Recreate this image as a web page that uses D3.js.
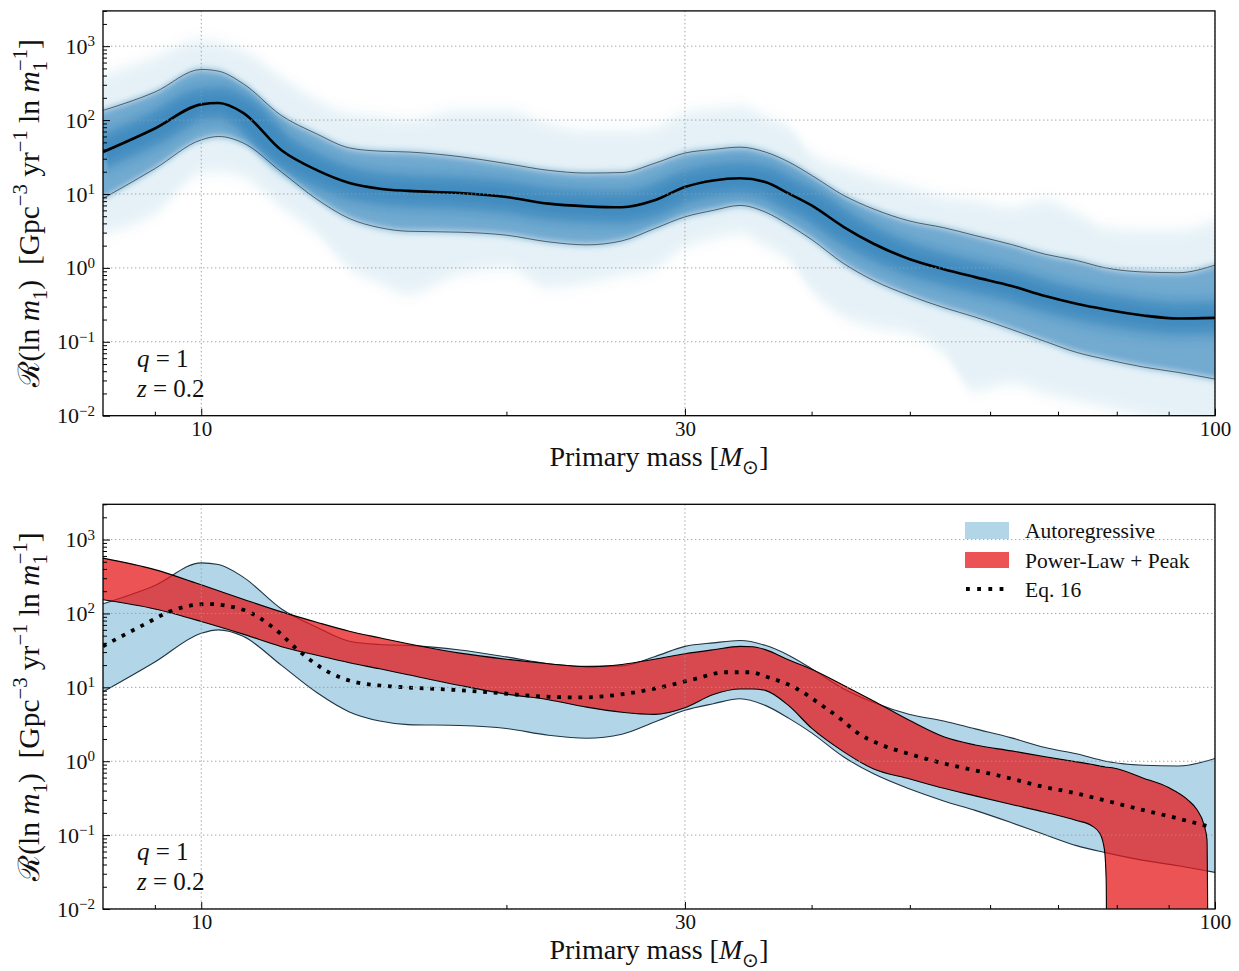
<!DOCTYPE html>
<html>
<head>
<meta charset="utf-8">
<script src="https://cdn.jsdelivr.net/npm/d3@7"></script>
<style>
  html, body { margin: 0; padding: 0; background: #ffffff; }
  svg text { font-family: "Liberation Serif", "Times New Roman", serif; fill: #111; white-space: pre; }
</style>
</head>
<body>
<svg id="chart" width="1239" height="971"></svg>
<script>
// ---------------- data ----------------
// Autoregressive model: posterior summary on a primary-mass grid [M_sun]
const massGrid   = [8, 9, 10, 10.4, 11, 12, 13, 14, 15, 16, 18, 20, 22, 24, 26, 28, 30, 32, 34, 36, 38, 40, 43, 46, 50, 54, 58, 63, 68, 73, 78, 85, 92, 100];
const medianRate = [37, 77, 163, 170, 125, 39, 21, 14.1, 11.8, 11, 10.3, 9.1, 7.4, 6.8, 6.6, 8.2, 12.4, 15.2, 16.3, 14.5, 10.1, 7.0, 3.6, 2.14, 1.31, 0.96, 0.75, 0.57, 0.415, 0.327, 0.274, 0.227, 0.207, 0.211];
const upper90    = [135, 239, 484, 459, 310, 115, 65, 42, 38, 37, 32, 25.8, 20.9, 19.2, 19.5, 26, 35.8, 40, 43, 37, 27, 17.9, 9.6, 6.3, 4.3, 3.5, 2.74, 2.07, 1.53, 1.26, 1.0, 0.88, 0.86, 1.09];
const lower90    = [8.7, 22, 54, 60, 49, 19.8, 8.5, 4.65, 3.5, 3.13, 3.04, 2.77, 2.25, 2.05, 2.32, 3.4, 4.9, 6.0, 7.0, 5.7, 3.8, 2.42, 1.15, 0.68, 0.42, 0.29, 0.216, 0.147, 0.101, 0.072, 0.058, 0.0455, 0.0385, 0.0313];
// extent reached by the individual posterior draws
const drawsUpper = [400, 710, 1200, 1100, 870, 380, 186, 123, 112, 100, 135, 135, 89, 71, 71, 79, 123, 141, 151, 112, 79, 35, 23, 17, 12.3, 9.1, 8.1, 6.6, 8.1, 5.5, 3.5, 3.2, 3.2, 4.4];
const drawsLower = [2.9, 5.5, 19, 20, 17, 6.6, 2.9, 1.0, 0.63, 0.45, 0.83, 1.0, 0.55, 0.63, 0.8, 1.0, 1.9, 2.5, 2.9, 2.0, 1.26, 0.5, 0.22, 0.16, 0.13, 0.069, 0.022, 0.0275, 0.02, 0.016, 0.013, 0.01, 0.008, 0.0063];

// Power-Law + Peak model, 90% band
const plpMass  = [8, 9, 10, 11, 12, 13, 14, 15, 16, 18, 20, 22, 24, 26, 28, 30, 32, 34, 35, 36, 38, 40, 43, 46, 50, 54, 58, 63, 68, 73, 75.5, 77, 77.8, 78.1, 78.3, 85, 90, 94, 96, 97.5, 98.2, 98.6, 100];
const plpUpper = [561, 392, 244, 156, 105, 76, 57.5, 46.8, 38.9, 29, 24, 20.9, 19, 20.4, 24, 28.5, 32.3, 35.8, 35.5, 32.4, 23.4, 17.6, 10.7, 6.6, 3.55, 2.14, 1.66, 1.38, 1.15, 0.98, 0.91, 0.86, 0.84, 0.83, 0.83, 0.59, 0.44, 0.30, 0.22, 0.14, 0.087, 1e-4, 1e-4];
const plpLower = [153, 115, 78, 52.5, 35.5, 27.2, 21.5, 17.8, 14.8, 10.6, 8.1, 6.8, 5.4, 4.6, 4.3, 5.3, 8.0, 9.5, 9.5, 9.1, 5.6, 2.8, 1.35, 0.79, 0.575, 0.43, 0.34, 0.26, 0.204, 0.158, 0.135, 0.105, 0.063, 0.025, 1e-4, 1e-4, 1e-4, 1e-4, 1e-4, 1e-4, 1e-4, 1e-4, 1e-4];

// Eq. 16 fit
const eq16Mass = [8, 8.77, 9.4, 10.16, 11, 11.8, 12.5, 13.4, 14.3, 15.7, 17.6, 19.6, 21.1, 23.7, 26.1, 28.2, 30.5, 32.9, 34.7, 36.4, 38.3, 41.1, 42.8, 44.4, 46.8, 49.8, 53.7, 57.9, 62.5, 67.3, 72.6, 78.4, 84.5, 91.3, 98.3];
const eq16Rate = [36, 70, 112, 134, 112, 63, 30.6, 15.7, 11.5, 10.1, 9.3, 8.4, 7.7, 7.3, 8.1, 9.8, 12.7, 16.0, 16.0, 13.4, 10.3, 5.5, 3.66, 2.42, 1.68, 1.27, 0.95, 0.756, 0.596, 0.459, 0.373, 0.288, 0.222, 0.172, 0.132];

// ticks and labels
const xMajorTicks = [10, 30, 100];
const xMinorTicks = [9, 20, 40, 50, 60, 70, 80, 90];
const yExponents  = [-2, -1, 0, 1, 2, 3];
const legendLabels = ["Autoregressive", "Power-Law + Peak", "Eq. 16"];

// ---------------- layout ----------------
const svg = d3.select("#chart");
svg.append("rect").attr("width", 1239).attr("height", 971).attr("fill", "#fff");

const plotLeft = 103, plotRight = 1215;
const panels = [{ top: 10.9, bottom: 415.7 }, { top: 504.3, bottom: 909 }];

const x = d3.scaleLog().domain([8, 100]).range([plotLeft, plotRight]);
const makeY = p => d3.scaleLog().domain([1e-2, 3e3]).range([p.bottom, p.top]);

const yMinorTicks = [];
yExponents.forEach(e => { for (let k = 2; k <= 9; k++) { const v = k * Math.pow(10, e); if (v <= 3e3) yMinorTicks.push(v); } });

const defs = svg.append("defs");
panels.forEach((p, i) => {
  defs.append("clipPath").attr("id", "clip" + i)
    .append("rect").attr("x", plotLeft).attr("y", p.top)
    .attr("width", plotRight - plotLeft).attr("height", p.bottom - p.top);
});
defs.append("filter").attr("id", "softWide").attr("x", "-5%").attr("y", "-30%").attr("width", "110%").attr("height", "160%")
  .append("feGaussianBlur").attr("stdDeviation", "0 7");
defs.append("filter").attr("id", "softV").attr("x", "-5%").attr("y", "-30%").attr("width", "110%").attr("height", "160%")
  .append("feGaussianBlur").attr("stdDeviation", "0 3.5");
defs.append("filter").attr("id", "softCore").attr("x", "-5%").attr("y", "-50%").attr("width", "110%").attr("height", "200%")
  .append("feGaussianBlur").attr("stdDeviation", "0 7");

const superscriptDigits = e => (e < 0 ? "\u2212" + Math.abs(e) : String(e));

function drawGridAndAxes(g, y, p) {
  // dotted grid
  const grid = g.append("g").attr("clip-path", "url(#clip" + panels.indexOf(p) + ")")
    .attr("stroke", "#9a9a9a").attr("stroke-width", 0.9).attr("stroke-dasharray", "1.4 2.6");
  yExponents.forEach(e => {
    const v = Math.pow(10, e);
    grid.append("line").attr("x1", plotLeft).attr("x2", plotRight).attr("y1", y(v)).attr("y2", y(v));
  });
  xMajorTicks.forEach(v => {
    grid.append("line").attr("x1", x(v)).attr("x2", x(v)).attr("y1", p.top).attr("y2", p.bottom);
  });

  // bottom axis: major ticks with labels, minor ticks without
  const xMajor = g.append("g").attr("transform", `translate(0,${p.bottom})`)
    .call(d3.axisBottom(x).tickValues(xMajorTicks).tickSize(-7).tickPadding(5.5).tickFormat(d3.format("d")));
  const xMinor = g.append("g").attr("transform", `translate(0,${p.bottom})`)
    .call(d3.axisBottom(x).tickValues(xMinorTicks).tickSize(-4).tickFormat(""));
  // left axis
  const yMajor = g.append("g").attr("transform", `translate(${plotLeft},0)`)
    .call(d3.axisLeft(y).tickValues(yExponents.map(e => Math.pow(10, e))).tickSize(-7).tickPadding(9).tickFormat(""));
  const yMinor = g.append("g").attr("transform", `translate(${plotLeft},0)`)
    .call(d3.axisLeft(y).tickValues(yMinorTicks).tickSize(-4).tickFormat(""));

  [xMajor, xMinor, yMajor, yMinor].forEach(a => {
    a.select(".domain").remove();
    a.attr("font-family", null).attr("font-size", null);
    a.selectAll(".tick line").attr("stroke", "#000").attr("stroke-width", 1);
  });
  xMajor.selectAll(".tick text").attr("font-size", 21).attr("fill", "#111");

  yMajor.selectAll(".tick text").each(function (d) {
    const t = d3.select(this).attr("font-size", 22).attr("fill", "#111").attr("text-anchor", "end").attr("x", -8);
    t.text(null);
    t.append("tspan").text("10");
    t.append("tspan").attr("dy", "-0.5em").attr("font-size", "15px").text(superscriptDigits(Math.round(Math.log10(d))));
  });

  // frame
  g.append("rect").attr("x", plotLeft).attr("y", p.top)
    .attr("width", plotRight - plotLeft).attr("height", p.bottom - p.top)
    .attr("fill", "none").attr("stroke", "#000").attr("stroke-width", 1.3);
}

function richText(g, parts, fontSize) {
  // parts: {t, it, sub, sup, back}
  const text = g.append("text").attr("font-size", fontSize);
  let shift = 0;
  parts.forEach(pt => {
    const target = pt.sub ? fontSize * 0.28 : pt.sup ? -fontSize * 0.42 : 0;
    const ts = text.append("tspan").text(pt.t);
    if (target !== shift) ts.attr("dy", target - shift);
    if (pt.back) ts.attr("dx", -pt.back);
    if (pt.it) ts.attr("font-style", "italic");
    if (pt.sub || pt.sup) ts.attr("font-size", fontSize * 0.7);
    shift = target;
  });
  return text;
}

function axisLabels(g, p) {
  const cx = (plotLeft + plotRight) / 2;
  const xl = richText(g, [
    { t: "Primary mass [" }, { t: "M", it: true }, { t: "\u2299", sub: true }, { t: "]" }
  ], 28);
  xl.attr("x", cx).attr("y", p.bottom + 50).attr("text-anchor", "middle");

  const yl = richText(g, [
    { t: "\u211B" }, { t: "(ln " }, { t: "m", it: true }, { t: "1", sub: true }, { t: ")  [Gpc" },
    { t: "\u22123", sup: true }, { t: " yr" }, { t: "\u22121", sup: true }, { t: " ln " },
    { t: "m", it: true }, { t: "1", sub: true }, { t: "\u22121", sup: true, back: 10 }, { t: "]" }
  ], 29.5);
  yl.attr("text-anchor", "middle")
    .attr("transform", `translate(39,${(p.top + p.bottom) / 2}) rotate(-90)`);

  const ann = g.append("g");
  richText(ann, [{ t: "q", it: true }, { t: " = 1" }], 25).attr("x", 137).attr("y", p.bottom - 49);
  richText(ann, [{ t: "z", it: true }, { t: " = 0.2" }], 25).attr("x", 137).attr("y", p.bottom - 19);
}

// ---------------- top panel: posterior draws ----------------
{
  const p = panels[0], y = makeY(p);
  const g = svg.append("g");
  const plot = g.append("g").attr("clip-path", "url(#clip0)");
  const idx = d3.range(massGrid.length);

  const band = (lo, hi) => d3.area().curve(d3.curveMonotoneX)
    .x(i => x(massGrid[i])).y0(i => y(lo[i])).y1(i => y(hi[i]));
  const line = vals => d3.line().curve(d3.curveMonotoneX).x(i => x(massGrid[i])).y(i => y(vals[i]));

  plot.append("path").attr("d", band(drawsLower, drawsUpper)(idx))
    .attr("fill", "#1f77b4").attr("fill-opacity", 0.1).attr("filter", "url(#softWide)");
  plot.append("path").attr("d", band(lower90, upper90)(idx))
    .attr("fill", "#1f77b4").attr("fill-opacity", 0.58).attr("filter", "url(#softV)");
  plot.append("path").attr("d", line(medianRate)(idx))
    .attr("fill", "none").attr("stroke", "#1f77b4").attr("stroke-opacity", 0.6)
    .attr("stroke-width", 32).attr("filter", "url(#softCore)");

  [upper90, lower90].forEach(v => plot.append("path").attr("d", line(v)(idx))
    .attr("fill", "none").attr("stroke", "#000").attr("stroke-opacity", 0.6).attr("stroke-width", 0.9));
  plot.append("path").attr("d", line(medianRate)(idx))
    .attr("fill", "none").attr("stroke", "#000").attr("stroke-width", 2.6);

  drawGridAndAxes(g, y, p);
  axisLabels(g, p);
}

// ---------------- bottom panel: model comparison ----------------
{
  const p = panels[1], y = makeY(p);
  const g = svg.append("g");
  const plot = g.append("g").attr("clip-path", "url(#clip1)");

  const arIdx = d3.range(massGrid.length);
  const arArea = d3.area().curve(d3.curveMonotoneX)
    .x(i => x(massGrid[i])).y0(i => y(lower90[i])).y1(i => y(upper90[i]));
  const arLine = vals => d3.line().curve(d3.curveMonotoneX).x(i => x(massGrid[i])).y(i => y(vals[i]));

  plot.append("path").attr("d", arArea(arIdx)).attr("fill", "#b3d5e8");
  [upper90, lower90].forEach(v => plot.append("path").attr("d", arLine(v)(arIdx))
    .attr("fill", "none").attr("stroke", "#1e3442").attr("stroke-width", 1.1));

  const plpIdx = d3.range(plpMass.length);
  const plpArea = d3.area().curve(d3.curveMonotoneX)
    .x(i => x(plpMass[i])).y0(i => y(plpLower[i])).y1(i => y(plpUpper[i]));
  const plpLine = vals => d3.line().curve(d3.curveMonotoneX).x(i => x(plpMass[i])).y(i => y(vals[i]));
  plot.append("path").attr("d", plpArea(plpIdx)).attr("fill", "#e41a1c").attr("fill-opacity", 0.75);
  [plpUpper, plpLower].forEach(v => plot.append("path").attr("d", plpLine(v)(plpIdx))
    .attr("fill", "none").attr("stroke", "#000").attr("stroke-width", 1.1));

  const eqIdx = d3.range(eq16Mass.length);
  plot.append("path")
    .attr("d", d3.line().curve(d3.curveMonotoneX).x(i => x(eq16Mass[i])).y(i => y(eq16Rate[i]))(eqIdx))
    .attr("fill", "none").attr("stroke", "#000").attr("stroke-width", 3.8).attr("stroke-dasharray", "3.8 6.8");

  drawGridAndAxes(g, y, p);
  axisLabels(g, p);

  // legend
  const lg = g.append("g");
  const lx = 965, rows = [530, 560, 589];
  lg.append("rect").attr("x", lx).attr("y", rows[0] - 8).attr("width", 44).attr("height", 17).attr("fill", "#b3d5e8");
  lg.append("rect").attr("x", lx).attr("y", rows[1] - 8).attr("width", 44).attr("height", 16)
    .attr("fill", "#e41a1c").attr("fill-opacity", 0.75);
  lg.append("line").attr("x1", lx + 1).attr("x2", lx + 44).attr("y1", rows[2]).attr("y2", rows[2])
    .attr("stroke", "#000").attr("stroke-width", 3.8).attr("stroke-dasharray", "3.8 7.4");
  legendLabels.forEach((t, i) => lg.append("text").attr("x", 1025).attr("y", rows[i] + 8)
    .attr("font-size", 21.5).text(t));
}
</script>
</body>
</html>
